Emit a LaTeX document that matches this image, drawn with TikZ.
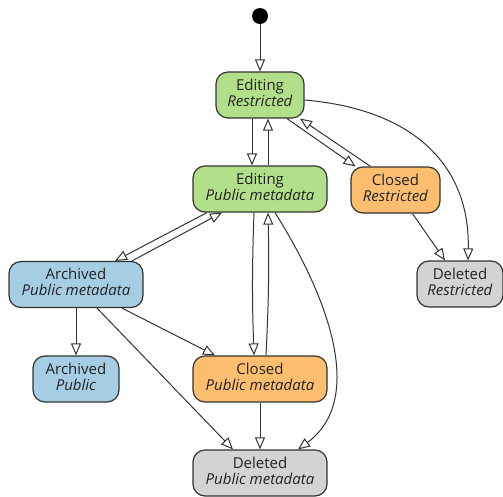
\documentclass[tikz,border=0pt]{standalone}
\usepackage{fontspec}
\setmainfont{Open Sans}
\usetikzlibrary{arrows.meta}
\definecolor{cgreen}{HTML}{B2DF8A}
\definecolor{cblue}{HTML}{A6CEE3}
\definecolor{corange}{HTML}{FDBF6F}
\definecolor{cgrey}{HTML}{D3D3D3}
\definecolor{cline}{HTML}{333333}
\definecolor{ctext}{HTML}{222222}
\newcommand{\lowfill}{\rule[-4.5pt]{0pt}{4.5pt}}
\begin{document}
\begin{tikzpicture}[x=1pt,y=-1pt,
  state/.style={draw=cline, line width=1.2pt, rounded corners=12pt, minimum height=46pt,
    inner sep=0pt, align=center, text=ctext, font=\fontsize{15}{16}\selectfont},
  trans/.style={draw=cline, line width=1pt, -{Triangle[open,length=12pt,width=10pt]}}
]
\useasboundingbox (0,0) rectangle (503,496);
\fill[black] (260,16) circle (8pt);
\coordinate (init) at (260,24);
\node[state, fill=cgreen, minimum width=88pt] (ER) at (260,95) {Editing\\\textit{Restricted}\lowfill};
\node[state, fill=cgreen, minimum width=134pt] (EP) at (260,189) {Editing\\\textit{Public metadata}\lowfill};
\node[state, fill=corange, minimum width=89pt] (CR) at (395.5,190) {Closed\\\textit{Restricted}\lowfill};
\node[state, fill=cblue, minimum width=134pt] (AP) at (76,284.5) {Archived\\\textit{Public metadata}\lowfill};
\node[state, fill=cgrey, minimum width=86pt] (DR) at (460,284) {Deleted\\\textit{Restricted}\lowfill};
\node[state, fill=cblue, minimum width=86pt] (AR) at (76,379) {Archived\\\textit{Public}\lowfill};
\node[state, fill=corange, minimum width=134pt] (CP) at (260,379) {Closed\\\textit{Public metadata}\lowfill};
\node[state, fill=cgrey, minimum width=134pt] (DP) at (260,473) {Deleted\\\textit{Public metadata}\lowfill};

\draw[trans] (init) -- (ER.north);
\draw[trans] ([xshift=-8pt]ER.south) -- ([xshift=-8pt]EP.north);
\draw[trans] ([xshift=8pt]EP.north) -- ([xshift=8pt]ER.south);
\draw[trans] ([xshift=27pt]ER.south) -- ([xshift=-40pt]CR.north);
\draw[trans] ([xshift=-25pt]CR.north) -- ([xshift=40pt]ER.south);
\draw[trans] ([yshift=-5pt]ER.east) .. controls +(115,10) and +(2,-90) .. ([xshift=8pt]DR.north);
\draw[trans] ([xshift=17pt]CR.south) -- ([xshift=-15pt]DR.north);
\draw[trans] ([xshift=-53pt]EP.south) -- ([xshift=39pt]AP.north);
\draw[trans] ([xshift=56pt]AP.north) -- ([xshift=-38pt]EP.south);
\draw[trans] ([xshift=-6pt]EP.south) to[bend right=2] ([xshift=-6pt]CP.north);
\draw[trans] ([xshift=6pt]CP.north) to[bend right=2] ([xshift=8pt]EP.south);
\draw[trans] ([xshift=15pt]EP.south) .. controls (330,300) and (365,400) .. ([xshift=38pt]DP.north);
\draw[trans] (AP.south) -- (AR.north);
\draw[trans] ([xshift=46pt]AP.south) -- ([xshift=-45pt]CP.north);
\draw[trans] ([xshift=21pt]AP.south) -- ([xshift=-27pt]DP.north);
\draw[trans] (CP.south) -- (DP.north);
\end{tikzpicture}
\end{document}
